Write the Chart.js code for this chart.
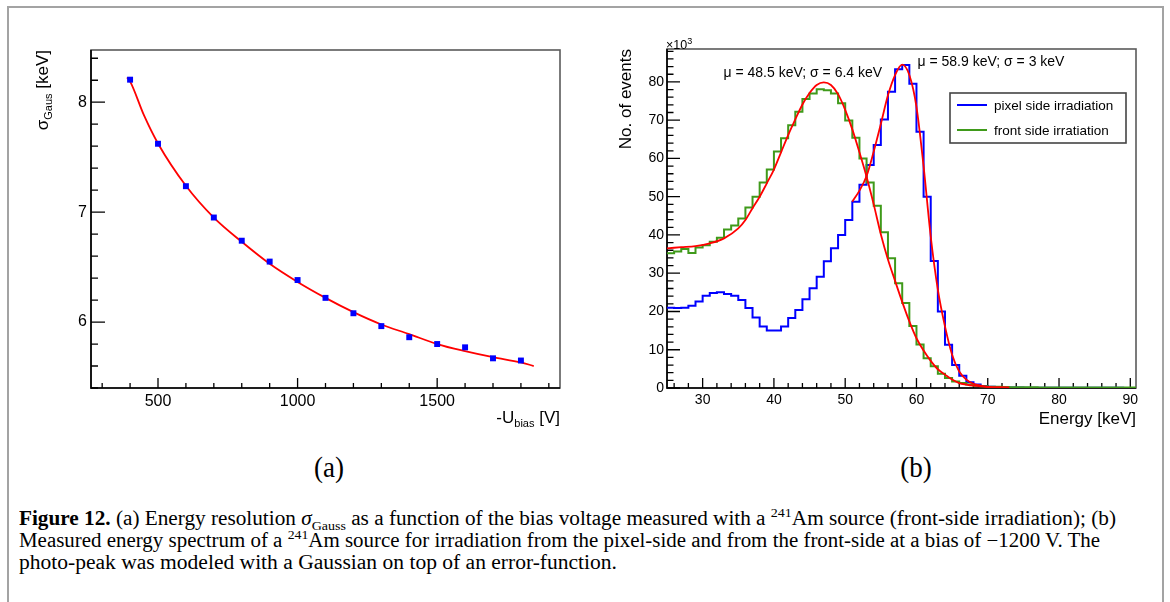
<!DOCTYPE html>
<html>
<head>
<meta charset="utf-8">
<script src="https://cdn.jsdelivr.net/npm/chart.js@4.4.1/dist/chart.umd.min.js"></script>
<style>
html, body { margin: 0; padding: 0; background: #fff; width: 1170px; height: 602px; overflow: hidden; }
#frame { position: absolute; left: 7px; top: 6px; width: 1153px; height: 640px; border: 2px solid #a3a3a3; }
canvas { position: absolute; top: 0; }
#chartA { left: 0; }
#chartB { left: 590px; }
.panel { position: absolute; width: 100px; text-align: center; font-family: "Liberation Serif", serif; font-size: 30px; line-height: 32px; top: 451px; transform: scaleX(0.9); }
.cap { position: absolute; left: 19px; white-space: nowrap; font-family: "Liberation Serif", serif; font-size: 20px; line-height: 20px; transform-origin: 0 50%; color: #000; }
.cap sub, .cap sup { font-size: 0.66em; line-height: 0; }
</style>
</head>
<body>
<div id="frame"></div>
<canvas id="chartA" width="590" height="440"></canvas>
<canvas id="chartB" width="580" height="440"></canvas>
<div class="panel" style="left:279px">(a)</div>
<div class="panel" style="left:866px">(b)</div>
<div class="cap" id="cap1" style="top:508px"><b>Figure 12.</b> (a) Energy resolution <i>σ</i><sub>Gauss</sub> as a function of the bias voltage measured with a <sup>241</sup>Am source (front-side irradiation); (b)</div>
<div class="cap" id="cap2" style="top:530px">Measured energy spectrum of a <sup>241</sup>Am source for irradiation from the pixel-side and from the front-side at a bias of −1200 V. The</div>
<div class="cap" id="cap3" style="top:552px">photo-peak was modeled with a Gaussian on top of an error-function.</div>
<script>
// (a) energy resolution vs bias voltage
const biasV = [400, 500, 600, 700, 800, 900, 1000, 1100, 1200, 1300, 1400, 1500, 1600, 1700, 1800];
const sigmaGaus = [8.205, 7.622, 7.236, 6.951, 6.74, 6.55, 6.382, 6.22, 6.08, 5.963, 5.862, 5.80, 5.77, 5.67, 5.65];
// fit curve
const fitBiasV = [389, 400, 450, 500, 600, 700, 800, 900, 1000, 1100, 1200, 1300, 1400, 1500, 1600, 1700, 1800, 1846];
const fitSigma = [8.225, 8.19, 7.88, 7.625, 7.24, 6.95, 6.73, 6.53, 6.365, 6.22, 6.09, 5.978, 5.89, 5.80, 5.735, 5.68, 5.633, 5.60];
const xTicksA = [500, 1000, 1500];
const yTicksA = [6, 7, 8];

// (b) energy spectra, 1 keV bins from 25 keV, counts in units of 10^3
const binLow = 25;
const binWidth = 1;
const pixelCounts = [
  21.0, 20.9, 21.0, 21.5, 22.6, 24.1, 24.8, 25.0, 24.6, 24.1,
  23.0, 20.9, 18.4, 16.1, 15.0, 15.0, 16.1, 18.3, 20.4, 23.2,
  26.1, 29.1, 33.1, 36.5, 40.0, 43.9, 48.7, 53.1, 58.3, 63.5,
  70.2, 77.4, 83.3, 84.4, 79.5, 67.0, 50.0, 33.2, 20.0, 11.3,
  6.0, 3.2, 1.5, 0.9, 0.5, 0.3, 0.2, 0.15, 0.12, 0.1,
  0.09, 0.08, 0.08, 0.07, 0.07, 0.06, 0.06, 0.05, 0.05, 0.05,
  0.05, 0.04, 0.04, 0.04, 0.03, 0.03
];
const frontCounts = [
  35.2, 35.7, 36.3, 35.3, 36.7, 37.3, 38.2, 39.3, 41.4, 42.5,
  44.3, 47.2, 50.0, 53.7, 57.1, 61.8, 65.3, 68.7, 72.2, 75.5,
  77.0, 78.1, 77.8, 77.0, 74.4, 69.9, 65.4, 60.0, 53.7, 47.6,
  40.7, 33.9, 27.4, 22.2, 16.2, 11.4, 7.8, 5.7, 3.7, 2.6,
  1.7, 1.3, 0.9, 0.6, 0.45, 0.35, 0.3, 0.25, 0.22, 0.2,
  0.18, 0.17, 0.16, 0.15, 0.15, 0.14, 0.13, 0.13, 0.12, 0.12,
  0.11, 0.11, 0.1, 0.1, 0.1, 0.1
];
const fitFrontE = [25, 27, 29, 31, 33, 35, 36, 37, 38, 39, 40, 41, 42, 43, 44, 45, 46, 47, 48, 49, 50, 51, 52, 53, 54, 55, 56, 57, 58, 59, 60, 61, 62, 63, 64, 65, 66, 67, 68, 69, 70, 73];
const fitFrontN = [36.5, 36.8, 37.1, 37.8, 39.1, 41.7, 43.9, 47.0, 50.0, 53.5, 57.1, 61.6, 66.1, 70.2, 74.1, 77.1, 79.2, 79.9, 79.2, 76.8, 72.7, 67.6, 61.6, 55.2, 48.0, 40.2, 33.6, 28.0, 22.5, 17.4, 13.0, 9.8, 7.1, 4.9, 3.5, 2.2, 1.3, 0.9, 0.6, 0.4, 0.25, 0.1];
const fitPixelE = [51, 52, 53, 54, 55, 56, 57, 58, 59, 60, 61, 62, 63, 64, 65, 66, 67, 68, 69, 70, 73];
const fitPixelN = [48.7, 51.6, 55.4, 61.8, 69.0, 76.5, 81.8, 84.5, 81.8, 73.5, 57.9, 39.6, 25.7, 16.1, 8.7, 4.3, 2.2, 1.1, 0.6, 0.3, 0.1];
const xTicksB = [30, 40, 50, 60, 70, 80, 90];
const yTicksB = [0, 10, 20, 30, 40, 50, 60, 70, 80];
const seriesNames = ['pixel side irradiation', 'front side irratiation'];
const fitLabels = ['μ = 48.5 keV; σ = 6.4 keV', 'μ = 58.9 keV; σ = 3 keV'];

const FAM = '"Liberation Sans", Arial, sans-serif';
const font = s => s + 'px ' + FAM;

function zip(xs, ys) { return xs.map((x, i) => ({ x: x, y: ys[i] })); }

// histogram -> step points at bin low edges, plus closing upper edge
function histPoints(counts) {
  const pts = counts.map((c, i) => ({ x: binLow + i * binWidth, y: c }));
  pts.push({ x: binLow + counts.length * binWidth, y: counts[counts.length - 1] });
  return pts;
}

// text with sub/superscripts, parts = [{t, size, dy}]
function drawRich(ctx, parts, x, y, align) {
  let w = 0;
  parts.forEach(p => { ctx.font = font(p.size); w += ctx.measureText(p.t).width; });
  let cx = align === 'right' ? x - w : x;
  ctx.textAlign = 'left';
  ctx.textBaseline = 'alphabetic';
  parts.forEach(p => {
    ctx.font = font(p.size);
    ctx.fillText(p.t, cx, y + (p.dy || 0));
    cx += ctx.measureText(p.t).width;
  });
}

// ROOT style frame with ticks pointing inwards
const rootAxes = {
  id: 'rootAxes',
  beforeDatasetsDraw(chart, args, o) {
    const { ctx, chartArea: a, scales: { x, y } } = chart;
    ctx.save();
    ctx.strokeStyle = '#5a5a5a';
    ctx.lineWidth = 1.6;
    ctx.strokeRect(a.left, a.top, a.right - a.left, a.bottom - a.top);
    ctx.strokeStyle = '#000';
    ctx.beginPath();
    ctx.moveTo(a.left, a.top); ctx.lineTo(a.left, a.bottom); ctx.lineTo(a.right, a.bottom);
    ctx.stroke();
    ctx.lineWidth = 1.3;
    ctx.beginPath();
    for (let k = Math.ceil(x.min / o.xMinor); k * o.xMinor <= x.max; k++) {
      const v = k * o.xMinor;
      const major = Math.abs(v / o.xMajor - Math.round(v / o.xMajor)) < 1e-6;
      const px = x.getPixelForValue(v);
      ctx.moveTo(px, a.bottom); ctx.lineTo(px, a.bottom - (major ? o.xLen : o.xLen / 2));
    }
    for (let k = Math.ceil(y.min / o.yMinor - 1e-6); k * o.yMinor <= y.max + 1e-9; k++) {
      const v = k * o.yMinor;
      const major = Math.abs(v / o.yMajor - Math.round(v / o.yMajor)) < 1e-6;
      const py = y.getPixelForValue(v);
      ctx.moveTo(a.left, py); ctx.lineTo(a.left + (major ? o.yLen : o.yLen / 2), py);
    }
    ctx.stroke();
    ctx.restore();
  },
  afterDraw(chart, args, o) {
    const { ctx, chartArea: a } = chart;
    ctx.save();
    ctx.fillStyle = '#000';
    drawRich(ctx, o.xTitle, a.right, o.xTitleY, 'right');
    ctx.translate(o.yTitleX, a.top);
    ctx.rotate(-Math.PI / 2);
    drawRich(ctx, o.yTitle, 0, 0, 'right');
    ctx.restore();
    if (o.extra) o.extra(chart);
  }
};

function linScale(min, max, ticks, fs, width, height, pad) {
  return {
    type: 'linear', min: min, max: max,
    grid: { display: false, drawTicks: false },
    border: { display: false },
    afterBuildTicks: s => { s.ticks = ticks.map(v => ({ value: v })); },
    afterFit: s => { if (width) s.width = width; if (height) s.height = height; },
    ticks: { font: { family: FAM, size: fs }, color: '#000', padding: pad, maxRotation: 0, autoSkip: false, callback: v => String(v) }
  };
}

// (a)
new Chart(document.getElementById('chartA'), {
  type: 'scatter',
  data: {
    datasets: [
      { type: 'line', data: zip(fitBiasV, fitSigma), borderColor: '#ff0000', borderWidth: 1.8, pointRadius: 0, cubicInterpolationMode: 'monotone', fill: false, order: 2 },
      { data: zip(biasV, sigmaGaus), pointStyle: 'rect', pointRadius: 4.2, backgroundColor: '#0000ff', borderWidth: 0, order: 1 }
    ]
  },
  options: {
    responsive: false, animation: false, devicePixelRatio: 1,
    layout: { padding: { top: 50, right: 30, left: 0, bottom: 0 } },
    plugins: {
      legend: { display: false }, tooltip: { enabled: false },
      rootAxes: {
        xMinor: 100, xMajor: 500, xLen: 10, yMinor: 0.2, yMajor: 1, yLen: 14,
        xTitle: [{ t: '-U', size: 17 }, { t: 'bias', size: 11, dy: 4 }, { t: ' [V]', size: 17 }], xTitleY: 423,
        yTitle: [{ t: 'σ', size: 17 }, { t: 'Gaus', size: 11, dy: 4 }, { t: ' [keV]', size: 17 }], yTitleX: 48
      }
    },
    scales: {
      x: linScale(260, 1940, xTicksA, 16, 0, 52, 4),
      y: linScale(5.4, 8.475, yTicksA, 16, 91, 0, 4)
    }
  },
  plugins: [rootAxes]
});

// (b)
new Chart(document.getElementById('chartB'), {
  type: 'scatter',
  data: {
    datasets: [
      { type: 'line', label: seriesNames[0], data: histPoints(pixelCounts), stepped: 'before', borderColor: '#0000ff', borderWidth: 2, pointRadius: 0, fill: false, order: 3 },
      { type: 'line', label: seriesNames[1], data: histPoints(frontCounts), stepped: 'before', borderColor: '#3f9a1a', borderWidth: 2, pointRadius: 0, fill: false, order: 2 },
      { type: 'line', label: 'fit front', data: zip(fitFrontE, fitFrontN), borderColor: '#ff0000', borderWidth: 1.8, pointRadius: 0, cubicInterpolationMode: 'monotone', fill: false, order: 1 },
      { type: 'line', label: 'fit pixel', data: zip(fitPixelE, fitPixelN), borderColor: '#ff0000', borderWidth: 1.8, pointRadius: 0, cubicInterpolationMode: 'monotone', fill: false, order: 0 }
    ]
  },
  options: {
    responsive: false, animation: false, devicePixelRatio: 1,
    layout: { padding: { top: 49, right: 34, left: 0, bottom: 0 } },
    plugins: {
      legend: { display: false }, tooltip: { enabled: false },
      rootAxes: {
        xMinor: 2, xMajor: 10, xLen: 10, yMinor: 2, yMajor: 10, yLen: 13,
        xTitle: [{ t: 'Energy [keV]', size: 17 }], xTitleY: 424,
        yTitle: [{ t: 'No. of events', size: 17 }], yTitleX: 41,
        extra: chart => {
          const ctx = chart.ctx;
          ctx.save();
          ctx.fillStyle = '#000';
          drawRich(ctx, [{ t: '×10', size: 12.5 }, { t: '3', size: 9, dy: -5 }], 76, 48.5, 'left');
          ctx.font = font(14);
          ctx.textBaseline = 'alphabetic';
          ctx.fillText(fitLabels[0], 133.5, 76.5);
          ctx.fillText(fitLabels[1], 327.5, 66);
          // legend box
          ctx.fillStyle = '#fff';
          ctx.fillRect(360, 93, 176, 50);
          ctx.strokeStyle = '#444';
          ctx.lineWidth = 1.6;
          ctx.strokeRect(360, 93, 176, 50);
          chart.data.datasets.slice(0, 2).forEach((d, i) => {
            const cy = 105 + i * 25;
            ctx.strokeStyle = d.borderColor;
            ctx.lineWidth = 2;
            ctx.beginPath(); ctx.moveTo(367, cy); ctx.lineTo(397, cy); ctx.stroke();
            ctx.fillStyle = '#000';
            ctx.font = font(13.5);
            ctx.textBaseline = 'middle';
            ctx.fillText(d.label, 404, cy + 1);
          });
          ctx.restore();
        }
      }
    },
    scales: {
      x: linScale(25, 90.8, xTicksB, 14, 0, 52, 4),
      y: linScale(0, 88.6, yTicksB, 14, 77, 0, 3)
    }
  },
  plugins: [rootAxes]
});

// fit each caption line to its width in the figure
[['cap1', 1097], ['cap2', 1081], ['cap3', 598]].forEach(([id, w]) => {
  const el = document.getElementById(id);
  el.style.transform = 'scaleX(' + (w / el.getBoundingClientRect().width) + ')';
});
</script>
</body>
</html>
